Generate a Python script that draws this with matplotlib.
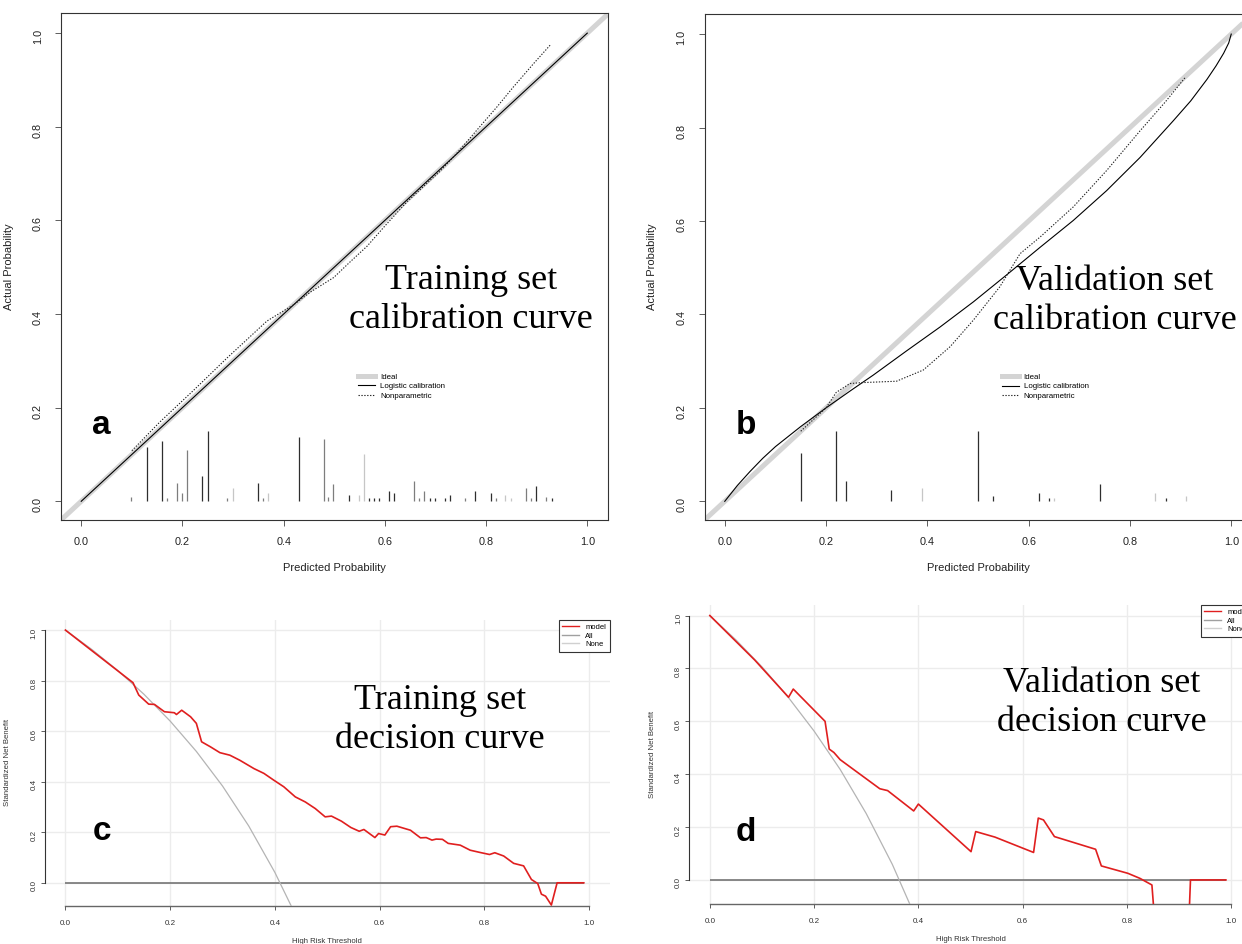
import numpy as np
import matplotlib.pyplot as plt
from matplotlib.lines import Line2D

plt.rcParams['font.family'] = ['Liberation Sans', 'DejaVu Sans']

W, H = 1242, 944

# ---------------- data ----------------
# calibration, training set (a)
train_logit_x = [0.0, 0.25, 0.5, 0.75, 1.0]
train_logit_y = [0.0, 0.25, 0.5, 0.75, 1.0]
train_np_x = [0.10, 0.156, 0.222, 0.288, 0.367, 0.42, 0.453, 0.499, 0.53, 0.565,
              0.60, 0.644, 0.709, 0.742, 0.782, 0.822, 0.854, 0.894, 0.928]
train_np_y = [0.108, 0.17, 0.237, 0.306, 0.385, 0.42, 0.447, 0.478, 0.51, 0.545,
              0.588, 0.64, 0.705, 0.743, 0.793, 0.843, 0.885, 0.935, 0.976]
train_spike_x = [0.099, 0.129, 0.159, 0.17, 0.189, 0.199, 0.209, 0.238, 0.25, 0.289,
                 0.299, 0.349, 0.359, 0.37, 0.43, 0.479, 0.488, 0.498, 0.529, 0.549,
                 0.559, 0.569, 0.578, 0.588, 0.609, 0.619, 0.658, 0.668, 0.678, 0.689,
                 0.699, 0.719, 0.729, 0.758, 0.779, 0.809, 0.819, 0.838, 0.85, 0.879,
                 0.889, 0.899, 0.919, 0.93]
train_spike_h = [0.010, 0.115, 0.129, 0.006, 0.040, 0.018, 0.110, 0.054, 0.150, 0.006,
                 0.028, 0.040, 0.006, 0.018, 0.137, 0.133, 0.009, 0.036, 0.014, 0.014,
                 0.101, 0.006, 0.006, 0.008, 0.022, 0.018, 0.044, 0.008, 0.022, 0.006,
                 0.008, 0.008, 0.014, 0.008, 0.022, 0.018, 0.006, 0.014, 0.006, 0.028,
                 0.006, 0.032, 0.010, 0.006]
# 0 = dark, 1 = mid grey, 2 = light grey
train_spike_tone = [1, 0, 0, 1, 1, 1, 1, 0, 0, 1,
                    2, 0, 1, 2, 0, 1, 1, 1, 0, 2,
                    2, 0, 0, 0, 0, 0, 1, 1, 1, 0,
                    0, 0, 0, 1, 0, 0, 1, 2, 2, 1,
                    1, 0, 1, 0]

# calibration, validation set (b)
valid_logit_x = [0.0, 0.025, 0.05, 0.075, 0.10, 0.15, 0.20, 0.25, 0.293, 0.359, 0.425,
                 0.491, 0.557, 0.623, 0.688, 0.754, 0.82, 0.886, 0.92, 0.952, 0.97,
                 0.985, 0.995, 1.0]
valid_logit_y = [0.0, 0.034, 0.064, 0.092, 0.117, 0.16, 0.20, 0.238, 0.27, 0.322, 0.373,
                 0.427, 0.485, 0.544, 0.601, 0.665, 0.736, 0.815, 0.857, 0.903, 0.932,
                 0.959, 0.981, 1.0]
valid_np_x = [0.15, 0.20, 0.22, 0.247, 0.27, 0.339, 0.392, 0.445, 0.491, 0.543,
              0.583, 0.623, 0.688, 0.754, 0.82, 0.87, 0.909]
valid_np_y = [0.15, 0.20, 0.233, 0.252, 0.254, 0.257, 0.281, 0.331, 0.388, 0.459,
              0.53, 0.566, 0.63, 0.708, 0.793, 0.855, 0.907]
valid_spike_x = [0.15, 0.22, 0.239, 0.329, 0.39, 0.50, 0.53, 0.62, 0.64, 0.65,
                 0.741, 0.85, 0.871, 0.91]
valid_spike_h = [0.103, 0.150, 0.043, 0.024, 0.029, 0.150, 0.012, 0.017, 0.007, 0.007,
                 0.037, 0.017, 0.007, 0.012]
valid_spike_tone = [0, 0, 0, 0, 2, 0, 0, 0, 0, 2, 0, 2, 0, 2]

# decision curve, training set (c)
train_thr = [0.0, 0.129, 0.14, 0.159, 0.17, 0.189, 0.208, 0.212, 0.222, 0.239,
             0.25, 0.26, 0.277, 0.295, 0.314, 0.333, 0.36, 0.379, 0.398, 0.417,
             0.439, 0.458, 0.477, 0.496, 0.508, 0.527, 0.545, 0.561, 0.57, 0.591,
             0.598, 0.61, 0.621, 0.633, 0.659, 0.678, 0.689, 0.70, 0.708, 0.72,
             0.731, 0.754, 0.773, 0.792, 0.81, 0.82, 0.837, 0.856, 0.875, 0.89,
             0.902, 0.909, 0.917, 0.928, 0.939, 0.99]
train_model = [1.0, 0.792, 0.743, 0.707, 0.706, 0.677, 0.673, 0.666, 0.683, 0.657,
               0.631, 0.558, 0.538, 0.515, 0.505, 0.485, 0.452, 0.433, 0.406, 0.38,
               0.34, 0.32, 0.294, 0.261, 0.264, 0.244, 0.219, 0.204, 0.211, 0.179,
               0.195, 0.189, 0.222, 0.224, 0.208, 0.178, 0.179, 0.169, 0.173, 0.172,
               0.156, 0.149, 0.129, 0.12, 0.112, 0.119, 0.106, 0.077, 0.067, 0.013,
               -0.003, -0.045, -0.053, -0.088, 0.0, 0.0]
train_all_thr = [0.0, 0.05, 0.10, 0.15, 0.20, 0.25, 0.30, 0.35, 0.40, 0.435]
train_all = [1.0, 0.924, 0.84, 0.746, 0.64, 0.52, 0.383, 0.225, 0.041, -0.108]

# decision curve, validation set (d)
valid_thr = [0.0, 0.086, 0.151, 0.16, 0.221, 0.229, 0.238, 0.25, 0.326, 0.341,
             0.391, 0.40, 0.501, 0.51, 0.547, 0.621, 0.63, 0.64, 0.661, 0.74,
             0.751, 0.802, 0.825, 0.848, 0.859, 0.916, 0.922, 0.99]
valid_model = [1.0, 0.832, 0.691, 0.722, 0.60, 0.495, 0.482, 0.455, 0.345, 0.338,
               0.261, 0.287, 0.107, 0.183, 0.162, 0.104, 0.234, 0.227, 0.164, 0.116,
               0.053, 0.025, 0.006, -0.019, -0.30, -0.30, 0.0, 0.0]
valid_all_thr = [0.0, 0.05, 0.10, 0.15, 0.20, 0.25, 0.30, 0.35, 0.385]
valid_all = [1.0, 0.908, 0.806, 0.692, 0.563, 0.418, 0.251, 0.059, -0.098]

none_nb = 0.0

ticks = [0.0, 0.2, 0.4, 0.6, 0.8, 1.0]
tick_labels = ['0.0', '0.2', '0.4', '0.6', '0.8', '1.0']

# ---------------- figure ----------------
fig = plt.figure(figsize=(W / 100, H / 100), dpi=100)


def px_axes(left, top, right, bottom):
    return fig.add_axes([left / W, 1 - bottom / H, (right - left) / W, (bottom - top) / H])


def calibration(ax, lx, ly, nx, ny, sx, sh, st):
    ax.set_xlim(-0.04, 1.04)
    ax.set_ylim(-0.04, 1.043)
    ax.axline((0, 0), (1, 1), color='#d4d4d4', lw=3.6, solid_capstyle='butt', zorder=1)
    ax.plot(lx, ly, color='black', lw=0.8, zorder=3)
    ax.plot(nx, ny, color='#222222', lw=0.8, ls=(0, (1.2, 1.4)), zorder=3)
    tones = ['#2e2e2e', '#7d7d7d', '#c6c6c6']
    ax.vlines(sx, 0, sh, colors=[tones[t] for t in st], lw=0.9, zorder=2)
    ax.set_xticks(ticks, tick_labels)
    ax.set_yticks(ticks, tick_labels)
    ax.tick_params(axis='both', labelsize=7.8, length=4, width=0.6, color='#444444',
                   labelcolor='#222222')
    ax.tick_params(axis='y', labelrotation=90, pad=9)
    ax.tick_params(axis='x', pad=8)
    for s in ax.spines.values():
        s.set_linewidth(0.8)
        s.set_color('#333333')
    ax.set_xlabel('Predicted Probability', fontsize=8, color='#222222', labelpad=12)
    ax.set_ylabel('Actual Probability', fontsize=8, color='#222222', labelpad=14)
    handles = [Line2D([], [], color='#d4d4d4', lw=3.6),
               Line2D([], [], color='black', lw=0.8),
               Line2D([], [], color='#222222', lw=0.8, ls=(0, (1.2, 1.4)))]
    ax.legend(handles, ['Ideal', 'Logistic calibration', 'Nonparametric'],
              loc='upper left', bbox_to_anchor=(0.543, 0.29), frameon=False,
              fontsize=5.7, handlelength=2.2, handletextpad=0.6, labelspacing=0.25,
              borderpad=0, borderaxespad=0)


def decision(ax, thr, model, all_thr, all_nb):
    ax.set_xlim(-0.04, 1.04)
    ax.set_ylim(-0.091, 1.04)
    ax.set_xticks(ticks, tick_labels)
    ax.set_yticks(ticks, tick_labels)
    ax.grid(color='#ececec', lw=1.0, zorder=0)
    ax.hlines(none_nb, thr[0], thr[-1], color='#6a6a6a', lw=1.1, zorder=2)
    ax.plot(all_thr, all_nb, color='#b4b4b4', lw=0.9, zorder=3)
    ax.plot(thr, model, color='#e01f1f', lw=1.2, zorder=4)
    for side in ['top', 'right']:
        ax.spines[side].set_visible(False)
    ax.spines['left'].set_bounds(0, 1)
    ax.spines['bottom'].set_bounds(0, 1)
    ax.spines['left'].set_color('#333333')
    ax.spines['bottom'].set_color('#666666')
    ax.spines['left'].set_linewidth(0.8)
    ax.spines['bottom'].set_linewidth(1.0)
    ax.tick_params(axis='both', labelsize=5.8, length=3, width=0.6, color='#444444',
                   labelcolor='#333333')
    ax.tick_params(axis='y', labelrotation=90, pad=2)
    ax.tick_params(axis='x', pad=7)
    ax.set_xlabel('High Risk Threshold', fontsize=5.6, color='#333333', labelpad=8)
    ax.set_ylabel('Standardized Net Benefit', fontsize=5.6, color='#333333', labelpad=14)
    handles = [Line2D([], [], color='#e01f1f', lw=1.0),
               Line2D([], [], color='#a0a0a0', lw=1.0),
               Line2D([], [], color='#d0d0d0', lw=1.0)]
    leg = ax.legend(handles, ['model', 'All', 'None'], loc='upper right',
                    bbox_to_anchor=(1.0, 1.0), fontsize=5.5, handlelength=2.2,
                    handletextpad=0.8, labelspacing=0.15, borderpad=0.5,
                    borderaxespad=0, fancybox=False, framealpha=1)
    leg.get_frame().set_edgecolor('#333333')
    leg.get_frame().set_linewidth(0.8)


ax_a = px_axes(61, 13, 607.5, 520)
calibration(ax_a, train_logit_x, train_logit_y, train_np_x, train_np_y,
            train_spike_x, train_spike_h, train_spike_tone)

ax_b = px_axes(704.5, 14, 1251.5, 520)
calibration(ax_b, valid_logit_x, valid_logit_y, valid_np_x, valid_np_y,
            valid_spike_x, valid_spike_h, valid_spike_tone)

ax_c = px_axes(44.5, 620, 610, 905.8)
decision(ax_c, train_thr, train_model, train_all_thr, train_all)

ax_d = px_axes(689, 605, 1252, 904)
decision(ax_d, valid_thr, valid_model, valid_all_thr, valid_all)

# panel titles and letters
serif = ['Liberation Serif', 'DejaVu Serif']
big = dict(fontsize=26, family=serif, ha='center', va='center', linespacing=1.22)
fig.text(471 / W, 1 - 300 / H, 'Training set\ncalibration curve', **big)
fig.text(1115 / W, 1 - 301 / H, 'Validation set\ncalibration curve', **big)
fig.text(440 / W, 1 - 720 / H, 'Training set\ndecision curve', **big)
fig.text(1102 / W, 1 - 703 / H, 'Validation set\ndecision curve', **big)

letter = dict(fontsize=24, fontweight='bold', ha='center', va='baseline')
fig.text(101 / W, 1 - 434 / H, 'a', **letter)
fig.text(746 / W, 1 - 434 / H, 'b', **letter)
fig.text(102 / W, 1 - 840 / H, 'c', **letter)
fig.text(746 / W, 1 - 841 / H, 'd', **letter)

fig.savefig('out.png', dpi=100)
